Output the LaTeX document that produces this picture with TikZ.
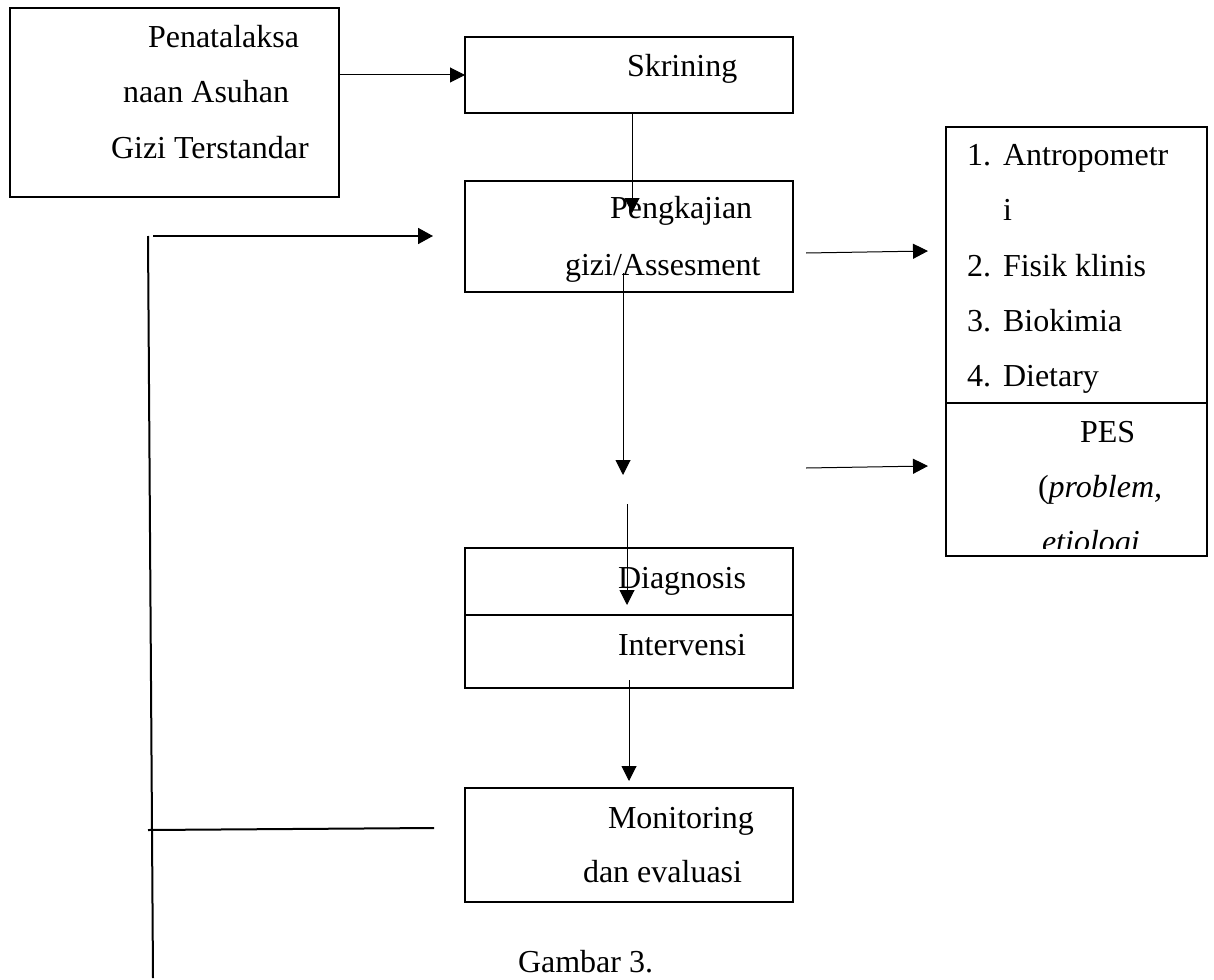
\documentclass[tikz,border=0pt]{standalone}
\usepackage{fontspec}
\setmainfont{Liberation Serif}
\usetikzlibrary{arrows.meta}
\begin{document}
\begin{tikzpicture}[x=0.5pt,y=-0.5pt,
  box/.style={draw, line width=0.6pt, rectangle, inner sep=0pt, outer sep=0pt},
  txt/.style={anchor=base west, inner sep=0pt, outer sep=0pt, font=\fontsize{16pt}{18pt}\selectfont},
  arr/.style={line width=0.5pt, -{Triangle[length=7.5pt,width=7.5pt]}},
  thickarr/.style={line width=0.9pt, -{Triangle[length=7.5pt,width=8pt]}},
  thick line/.style={line width=1pt}]
\useasboundingbox (0,0) rectangle (1214,979);
% boxes
\node[box, minimum width=164.5pt, minimum height=94.5pt] (A) at (174.5,102.5) {};
\node[box, minimum width=164pt, minimum height=38pt] (skr) at (629,75) {};
\node[box, minimum width=164pt, minimum height=55.5pt] (peng) at (629,236.5) {};
\node[box, minimum width=164pt, minimum height=33.5pt] (diag) at (629,581.5) {};
\node[box, minimum width=164pt, minimum height=36.5pt] (interv) at (629,651.5) {};
\node[box, minimum width=164pt, minimum height=57pt] (mon) at (629,845) {};
\node[box, minimum width=130.5pt, minimum height=138pt] (list) at (1076.5,265) {};
\node[box, minimum width=130.5pt, minimum height=76.5pt] (pes) at (1076.5,479.5) {};
% texts
\node[txt] (t1) at (148,48) {Penatalaksa};
\node[txt] (t2) at (123,103) {naan Asuhan};
\node[txt] (t3) at (111,158) {Gizi Terstandar};
\node[txt] (t4) at (627,77) {Skrining};
\node[txt] (t5) at (610,218) {Pengkajian};
\node[txt] (t6) at (565,275) {gizi/Assesment};
\node[txt] (t7) at (618,588) {Diagnosis};
\node[txt] (t8) at (618,655) {Intervensi};
\node[txt] (t9) at (608,828) {Monitoring};
\node[txt] (t10) at (583,882) {dan evaluasi};
\node[txt] (t11) at (518,972) {Gambar 3.};
\node[txt] (n1) at (967,165) {1.};
\node[txt] (l1) at (1003,165) {Antropometr};
\node[txt] (l1b) at (1003,220) {i};
\node[txt] (n2) at (967,276) {2.};
\node[txt] (l2) at (1003,276) {Fisik klinis};
\node[txt] (n3) at (967,331) {3.};
\node[txt] (l3) at (1003,331) {Biokimia};
\node[txt] (n4) at (967,386) {4.};
\node[txt] (l4) at (1003,386) {Dietary};
\node[txt] (p1) at (1080,442) {PES};
\node[txt] (p2) at (1038,497) {(\textit{problem,}};
\begin{scope}
\clip (946,403) rectangle (1207,548);
\node[txt] (p3) at (1042,552) {\textit{etiologi}};
\end{scope}
% coordinates for free ends
\coordinate (c1) at (632,213);
\coordinate (c2s) at (623,273);
\coordinate (c2e) at (623,475);
\coordinate (c3s) at (627,504);
\coordinate (c3e) at (627,605);
\coordinate (c4s) at (629,680);
\coordinate (c4e) at (629,781);
\coordinate (r1s) at (806,253);
\coordinate (r1e) at (928,251);
\coordinate (r2s) at (806,468);
\coordinate (r2e) at (928,466);
\coordinate (L1) at (148,236);
\coordinate (L2) at (153,978);
\coordinate (L3) at (153,236);
\coordinate (L4) at (433,236);
\coordinate (L5) at (148,830);
\coordinate (L6) at (434,828);
% connectors
\draw[arr] (A.east |- skr.west) -- (skr.west);
\draw[arr] (skr.south -| c1) -- (c1);
\draw[arr] (c2s) -- (c2e);
\draw[arr] (c3s) -- (c3e);
\draw[arr] (c4s) -- (c4e);
\draw[arr] (r1s) -- (r1e);
\draw[arr] (r2s) -- (r2e);
\draw[thick line] (L1) -- (L2);
\draw[thickarr] (L3) -- (L4);
\draw[thick line] (L5) -- (L6);
\end{tikzpicture}
\end{document}
